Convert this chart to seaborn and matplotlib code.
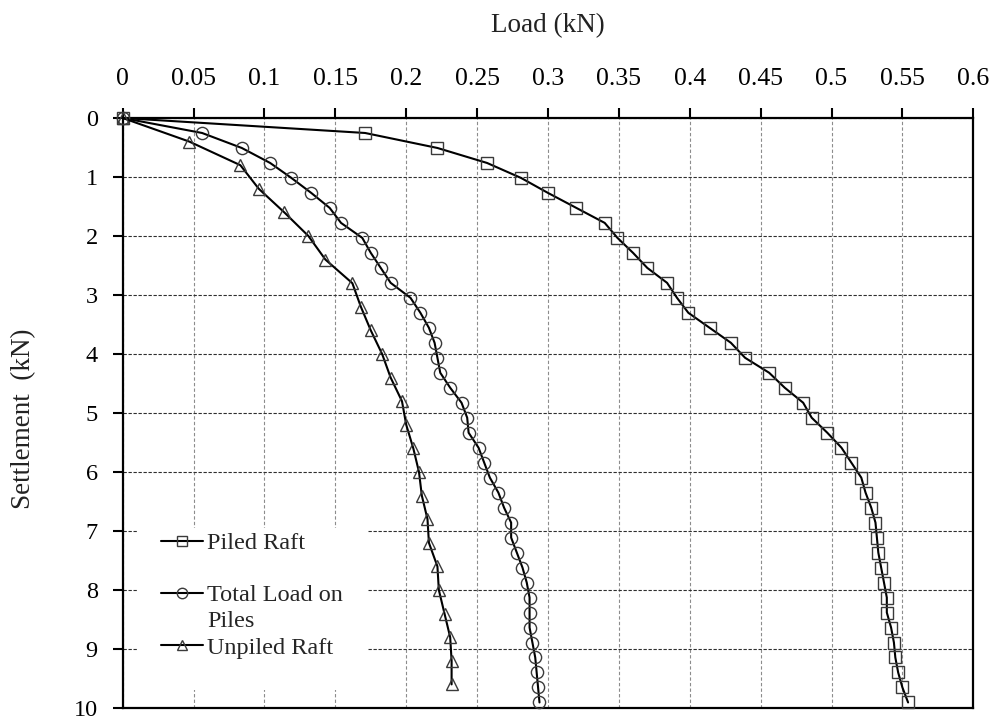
import matplotlib
matplotlib.use("Agg")
import matplotlib.pyplot as plt
from matplotlib.lines import Line2D
from matplotlib.patches import Rectangle
import pandas as pd
import seaborn as sns

# Settlement readings (dial steps) for the piled raft / pile load series
settlement_fine = [0.0, 0.254, 0.508, 0.762, 1.016, 1.27, 1.524, 1.778, 2.032, 2.286,
                   2.54, 2.794, 3.048, 3.302, 3.556, 3.81, 4.064, 4.318, 4.572, 4.826,
                   5.08, 5.334, 5.588, 5.842, 6.096, 6.35, 6.604, 6.858, 7.112, 7.366,
                   7.62, 7.874, 8.128, 8.382, 8.636, 8.89, 9.144, 9.398, 9.652, 9.906]
# Settlement readings for the unpiled raft
settlement_coarse = [0.0, 0.4, 0.8, 1.2, 1.6, 2.0, 2.4, 2.8, 3.2, 3.6, 4.0, 4.4, 4.8,
                     5.2, 5.6, 6.0, 6.4, 6.8, 7.2, 7.6, 8.0, 8.4, 8.8, 9.2, 9.6]

load_piled_raft = [0.0, 0.171, 0.222, 0.257, 0.281, 0.300, 0.320, 0.340, 0.349, 0.360,
                   0.370, 0.384, 0.391, 0.399, 0.414, 0.429, 0.439, 0.456, 0.467, 0.480,
                   0.486, 0.497, 0.507, 0.514, 0.521, 0.524, 0.528, 0.531, 0.532, 0.533,
                   0.535, 0.537, 0.539, 0.539, 0.542, 0.544, 0.545, 0.547, 0.550, 0.554]
load_piles = [0.0, 0.056, 0.084, 0.104, 0.119, 0.133, 0.146, 0.154, 0.169, 0.175,
              0.182, 0.189, 0.203, 0.210, 0.216, 0.220, 0.222, 0.224, 0.231, 0.239,
              0.243, 0.244, 0.251, 0.255, 0.259, 0.265, 0.269, 0.274, 0.274, 0.278,
              0.282, 0.285, 0.287, 0.287, 0.287, 0.289, 0.291, 0.292, 0.293, 0.294]
load_unpiled_raft = [0.0, 0.047, 0.083, 0.096, 0.114, 0.131, 0.143, 0.162, 0.168, 0.175,
                     0.183, 0.189, 0.197, 0.200, 0.205, 0.209, 0.211, 0.215, 0.216, 0.222,
                     0.223, 0.227, 0.231, 0.232, 0.232]

series_names = ["Piled Raft", "Total Load on\nPiles", "Unpiled Raft"]
x_ticks = [0.0, 0.05, 0.1, 0.15, 0.2, 0.25, 0.3, 0.35, 0.4, 0.45, 0.5, 0.55, 0.6]
x_tick_labels = ["0", "0.05", "0.1", "0.15", "0.2", "0.25", "0.3", "0.35", "0.4",
                 "0.45", "0.5", "0.55", "0.6"]
y_ticks = [0, 1, 2, 3, 4, 5, 6, 7, 8, 9, 10]
y_tick_labels = ["0", "1", "2", "3", "4", "5", "6", "7", "8", "9", "10"]

sns.set_theme(style="white")
plt.rcParams["font.family"] = ["Liberation Serif", "DejaVu Serif"]

fig = plt.figure(figsize=(9.96, 7.19), dpi=100)
W, H = 996, 719
left, right, top, bottom = 122.7, 973.3, 118, 708
ax = fig.add_axes([left / W, 1 - bottom / H, (right - left) / W, (bottom - top) / H])

frames = [
    pd.DataFrame({"load": load_piled_raft, "settlement": settlement_fine}),
    pd.DataFrame({"load": load_piles, "settlement": settlement_fine}),
    pd.DataFrame({"load": load_unpiled_raft, "settlement": settlement_coarse}),
]
markers = ["s", "o", "^"]
edge = "#3a3a3a"

for df, mk in zip(frames, markers):
    sns.lineplot(data=df, x="load", y="settlement", ax=ax, sort=False, estimator=None,
                 color="black", lw=1.5, marker=mk, markersize=8.8,
                 markerfacecolor="none", markeredgecolor=edge, markeredgewidth=1.0,
                 clip_on=False, zorder=3, legend=False)

ax.set_xlim(0, 0.6)
ax.set_ylim(10, 0)
ax.set_xticks(x_ticks)
ax.set_xticklabels(x_tick_labels)
ax.set_yticks(y_ticks)
ax.set_yticklabels(y_tick_labels)

ax.set_axisbelow(True)
ax.xaxis.grid(True, color="#8c8c8c", ls=(0, (3, 2)), lw=0.8)
ax.yaxis.grid(True, color="#2e2e2e", ls=(0, (3, 1.5)), lw=0.8)

ax.xaxis.tick_top()
ax.xaxis.set_label_position("top")
ax.tick_params(axis="x", top=True, bottom=False, labeltop=True, labelbottom=False,
               direction="out", length=7, width=1.5, pad=13, labelsize=18.5,
               colors="black")
ax.tick_params(axis="y", left=True, direction="out", length=7, width=1.5, pad=11,
               labelsize=17.5, colors="black")
for sp in ax.spines.values():
    sp.set_visible(True)
    sp.set_color("black")
    sp.set_linewidth(1.6)

ax.set_xlabel("Load (kN)", fontsize=19.5, color="#222222")
ax.set_ylabel("Settlement  (kN)", fontsize=19.5, color="#222222")
ax.xaxis.set_label_coords(0.5, 1.146)
ax.yaxis.set_label_coords(-0.102, 0.49)

# white panel behind the legend entries
aw, ah = right - left, bottom - top
ax.add_patch(Rectangle(((137 - left) / aw, (bottom - 690) / ah),
                       (367 - 137) / aw, (690 - 528) / ah,
                       transform=ax.transAxes, facecolor="white", edgecolor="none",
                       zorder=1))

handle_kw = dict(color="black", lw=1.5, markerfacecolor="none",
                 markeredgecolor=edge, markeredgewidth=1.0, markersize=7.5)
blank = Line2D([], [], color="none")
handles = [Line2D([], [], marker="s", **handle_kw), blank,
           Line2D([], [], marker="o", **handle_kw), blank,
           Line2D([], [], marker="^", **handle_kw)]
first, second = series_names[1].split("\n")
labels = [series_names[0], " ", first, second, series_names[2]]
ax.legend(handles, labels, loc="upper left",
          bbox_to_anchor=((160.7 - left) / aw, (bottom - 532.0) / ah),
          frameon=False, borderpad=0, borderaxespad=0, handlelength=1.75,
          handletextpad=0.17, labelspacing=0.17, fontsize=17.5)

fig.savefig("out.png", dpi=100, facecolor="white")
